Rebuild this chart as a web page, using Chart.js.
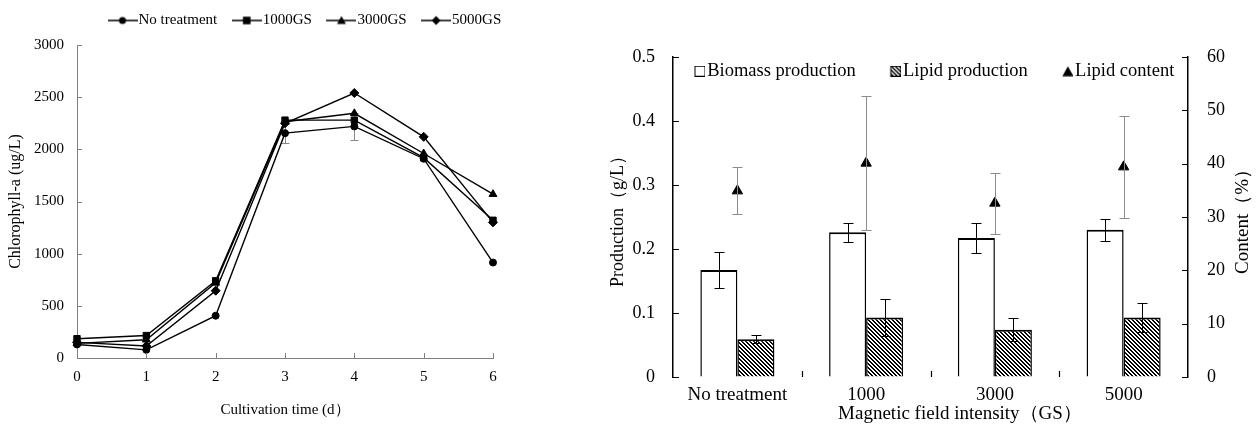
<!DOCTYPE html>
<html lang="en">
<head>
<meta charset="UTF-8">
<title>Chlorophyll-a and production under magnetic field</title>
<script src="https://cdn.jsdelivr.net/npm/chart.js"></script>
<style>
  body { margin: 0; background: #fff; }
  .box { position: absolute; top: 0; height: 426px; }
  #left { left: 0; width: 560px; }
  #right { left: 600px; width: 656px; }
</style>
</head>
<body>
<div class="box" id="left"><canvas id="chlChart" width="560" height="426"></canvas></div>
<div class="box" id="right"><canvas id="prodChart" width="656" height="426"></canvas></div>

<script>
// ---- left chart data: chlorophyll-a (ug/L) by cultivation day
const days = ['0', '1', '2', '3', '4', '5', '6'];
const noTreatment = [130, 78, 405, 2155, 2220, 1910, 915];
const gs1000 = [185, 215, 740, 2280, 2280, 1920, 1320];
const gs3000 = [140, 175, 720, 2265, 2345, 1960, 1570];
const gs5000 = [150, 115, 645, 2250, 2540, 2120, 1300];
const noTreatmentErr = [0, 0, 0, 92, 130, 0, 0];
const chlTicks = [0, 500, 1000, 1500, 2000, 2500, 3000];

// ---- right chart data
const fields = ['No treatment', '1000', '3000', '5000'];
const biomass = [0.167, 0.226, 0.217, 0.230];
const biomassErr = [0.028, 0.015, 0.023, 0.017];
const lipid = [0.059, 0.093, 0.074, 0.093];
const lipidErr = [0.0065, 0.029, 0.018, 0.022];
const content = [34.9, 40.1, 32.6, 39.4];
const contentErr = [4.4, 12.6, 5.7, 9.5];

const serif = '"Liberation Serif", "Times New Roman", serif';

// hatch used for the lipid bars
function hatch() {
  const c = document.createElement('canvas');
  c.width = 4; c.height = 4;
  const g = c.getContext('2d');
  g.fillStyle = '#fff'; g.fillRect(0, 0, 4, 4);
  g.fillStyle = '#000';
  for (let y = 0; y < 4; y++)
    for (let x = 0; x < 4; x++)
      if (((x - y) % 4 + 4) % 4 < 2) g.fillRect(x, y, 1, 1);
  return g.createPattern(c, 'repeat');
}
const lipidFill = hatch();

function marker(g, style, x, y, r) {
  g.beginPath();
  if (style === 'circle') g.arc(x, y, r, 0, Math.PI * 2);
  else if (style === 'rect') g.rect(x - r, y - r, 2 * r, 2 * r);
  else if (style === 'triangle') { g.moveTo(x, y - r); g.lineTo(x + r, y + r * 0.8); g.lineTo(x - r, y + r * 0.8); g.closePath(); }
  else if (style === 'rectRot') { g.moveTo(x, y - r); g.lineTo(x + r, y); g.lineTo(x, y + r); g.lineTo(x - r, y); g.closePath(); }
  g.fill();
}

// legend icon drawn right-aligned so the text sits close to it
function legendIcon(iconW, h, fs, gap, draw) {
  const bw = Math.max(1, iconW - fs + 2 * gap);
  const W = bw + fs - 2 * gap;
  const c = document.createElement('canvas');
  c.width = W; c.height = h;
  const g = c.getContext('2d');
  g.translate(W - iconW, 0);
  draw(g, iconW, h);
  return { canvas: c, bw: bw };
}

// fixed legend box height + placement (legend clips to its box, so move all edges)
const legendPlace = {
  id: 'legendPlace',
  beforeInit(chart, args, opts) {
    const lg = chart.legend;
    const fit = lg.fit;
    lg.fit = function () { fit.call(this); this.height = opts.height; };
  },
  afterLayout(chart, args, opts) {
    const lg = chart.legend;
    lg.left = opts.left;
    lg.right = chart.width;
    lg.top = opts.top;
    lg.bottom = opts.top + opts.height;
  }
};

// tick marks pointing into the plot
const inTicks = {
  id: 'inTicks',
  afterDatasetsDraw(chart, args, opts) {
    const ctx = chart.ctx;
    ctx.save();
    ctx.strokeStyle = opts.color;
    ctx.lineWidth = opts.width;
    Object.values(chart.scales).forEach(s => {
      ctx.beginPath();
      if (s.isHorizontal()) {
        const n = s.ticks.length;
        for (let i = 0; i < n; i++) {
          let x;
          if (opts.between) {
            if (i === 0) continue;
            x = (s.getPixelForTick(i - 1) + s.getPixelForTick(i)) / 2;
          } else x = s.getPixelForTick(i);
          x = Math.round(x) + 0.5;
          ctx.moveTo(x, s.top);
          ctx.lineTo(x, s.top - opts.len);
        }
      } else {
        const left = s.position === 'left';
        const edge = left ? s.right : s.left;
        s.ticks.forEach((t, i) => {
          const y = Math.round(s.getPixelForTick(i)) + 0.5;
          ctx.moveTo(edge, y);
          ctx.lineTo(edge + (left ? opts.len : -opts.len), y);
        });
      }
      ctx.stroke();
    });
    ctx.restore();
  }
};

// titles placed by hand (right-axis title reads bottom-to-top, x title sits off-centre)
const freeTitles = {
  id: 'freeTitles',
  afterDraw(chart, args, opts) {
    const ctx = chart.ctx;
    const area = chart.chartArea;
    (opts.items || []).forEach(t => {
      ctx.save();
      ctx.translate(t.x, t.y === 'mid' ? (area.top + area.bottom) / 2 : t.y);
      ctx.rotate(t.rot || 0);
      ctx.font = t.size + 'px ' + serif;
      ctx.fillStyle = '#000';
      ctx.textAlign = 'center';
      ctx.textBaseline = 'middle';
      ctx.fillText(t.text, 0, 0);
      ctx.restore();
    });
  }
};

function drawErrors(chart, cap) {
  const ctx = chart.ctx;
  ctx.save();
  chart.data.datasets.forEach((ds, di) => {
    if (!ds.errors) return;
    const meta = chart.getDatasetMeta(di);
    const ys = chart.scales[meta.yAxisID];
    ctx.strokeStyle = ds.errorColor || '#000';
    ctx.lineWidth = 1;
    meta.data.forEach((el, i) => {
      const e = ds.errors[i];
      if (!e) return;
      const v = ds.data[i];
      const x = Math.round(el.x) + 0.5;
      const y1 = Math.round(ys.getPixelForValue(v + e)) + 0.5;
      const y2 = Math.round(ys.getPixelForValue(v - e)) + 0.5;
      ctx.beginPath();
      ctx.moveTo(x, y1); ctx.lineTo(x, y2);
      ctx.moveTo(x - cap, y1); ctx.lineTo(x + cap, y1);
      ctx.moveTo(x - cap, y2); ctx.lineTo(x + cap, y2);
      ctx.stroke();
    });
  });
  ctx.restore();
}

const errBars = {
  id: 'errBars',
  beforeDatasetsDraw(chart, args, opts) { if (opts.behind) drawErrors(chart, opts.cap); },
  afterDatasetsDraw(chart, args, opts) { if (!opts.behind) drawErrors(chart, opts.cap); }
};

// ================= left: chlorophyll-a =================
const lineStyles = ['circle', 'rect', 'triangle', 'rectRot'];
const markerSize = { circle: 3.5, rect: 3.8, triangle: 4.5, rectRot: 4.5 };
const leftFont = 15;
const leftIcons = lineStyles.map(st => legendIcon(30, 12, leftFont, 1, (g, w, h) => {
  g.strokeStyle = '#000'; g.lineWidth = 1.5;
  g.beginPath(); g.moveTo(0, h / 2); g.lineTo(w, h / 2); g.stroke();
  g.fillStyle = '#000';
  marker(g, st, w / 2, h / 2, markerSize[st]);
}));

function lineSet(label, data, style, extra) {
  return Object.assign({
    label: label,
    data: data,
    borderColor: '#000',
    backgroundColor: '#000',
    borderWidth: 1.4,
    pointStyle: style,
    pointRadius: style === 'circle' ? 3.5 : 4.5,
    pointBackgroundColor: '#000',
    pointBorderColor: '#000',
    pointBorderWidth: 1,
    tension: 0
  }, extra || {});
}

new Chart(document.getElementById('chlChart'), {
  type: 'line',
  data: {
    labels: days,
    datasets: [
      lineSet('No treatment', noTreatment, 'circle', { errors: noTreatmentErr, errorColor: '#888' }),
      lineSet('1000GS', gs1000, 'rect'),
      lineSet('3000GS', gs3000, 'triangle'),
      lineSet('5000GS', gs5000, 'rectRot')
    ]
  },
  options: {
    responsive: false,
    animation: false,
    layout: { padding: { left: 0, right: 67, top: 0, bottom: 0 } },
    scales: {
      x: {
        type: 'category',
        offset: false,
        grid: { drawOnChartArea: false, drawTicks: false },
        border: { color: '#808080', width: 1 },
        ticks: { color: '#000', font: { family: serif, size: leftFont }, padding: 10, maxRotation: 0, autoSkip: false },
        title: { display: true, text: 'Cultivation time (d）', color: '#000', font: { family: serif, size: leftFont }, padding: { top: 0, bottom: 7 } },
        afterFit: s => { s.height = 68; }
      },
      y: {
        min: 0, max: 3000,
        afterBuildTicks: s => { s.ticks = chlTicks.map(v => ({ value: v })); },
        grid: { drawOnChartArea: false, drawTicks: false },
        border: { color: '#808080', width: 1 },
        ticks: { color: '#000', font: { family: serif, size: leftFont }, padding: 13, callback: v => String(v) },
        title: { display: true, text: 'Chlorophyll-a (ug/L)', color: '#000', font: { family: serif, size: 16 }, padding: { top: 6, bottom: 0 } },
        afterFit: s => { s.width = 77; }
      }
    },
    plugins: {
      legend: {
        position: 'top',
        align: 'start',
        labels: {
          usePointStyle: true,
          pointStyleWidth: leftIcons[0].bw,
          padding: 21,
          color: '#000',
          font: { family: serif, size: leftFont },
          generateLabels: chart => chart.data.datasets.map((ds, i) => ({
            text: ds.label, pointStyle: leftIcons[i].canvas, datasetIndex: i,
            hidden: false, lineWidth: 0, fontColor: '#000',
            fillStyle: 'transparent', strokeStyle: 'transparent'
          }))
        }
      },
      legendPlace: { height: 45, left: 93, top: -8 },
      inTicks: { len: 5, color: '#808080', width: 1, between: false },
      errBars: { behind: true, cap: 4 },
      tooltip: { enabled: false }
    }
  },
  plugins: [legendPlace, inTicks, errBars]
});

// ================= right: production / content =================
const rightFont = 18.5;
const rightIcons = [
  legendIcon(11, 11, rightFont, 2, (g, w, h) => {
    g.fillStyle = '#fff'; g.fillRect(0.5, 0.5, w - 1, h - 1);
    g.strokeStyle = '#000'; g.lineWidth = 1; g.strokeRect(0.5, 0.5, w - 1, h - 1);
  }),
  legendIcon(11, 11, rightFont, 2, (g, w, h) => {
    g.fillStyle = lipidFill; g.fillRect(0.5, 0.5, w - 1, h - 1);
    g.strokeStyle = '#000'; g.lineWidth = 1; g.strokeRect(0.5, 0.5, w - 1, h - 1);
  }),
  legendIcon(11, 11, rightFont, 2, (g, w, h) => {
    g.fillStyle = '#000';
    g.beginPath(); g.moveTo(w / 2, 0.5); g.lineTo(w, h - 0.5); g.lineTo(0, h - 0.5); g.closePath(); g.fill();
  })
];

const barStyle = {
  borderColor: '#000',
  borderWidth: { top: 2, left: 1.5, right: 1.5, bottom: 0 },
  barPercentage: 1,
  categoryPercentage: 0.575
};

new Chart(document.getElementById('prodChart'), {
  data: {
    labels: fields,
    datasets: [
      Object.assign({ type: 'bar', label: 'Biomass production', data: biomass, backgroundColor: '#fff', yAxisID: 'y', errors: biomassErr, errorColor: '#000' }, barStyle),
      Object.assign({ type: 'bar', label: 'Lipid production', data: lipid, backgroundColor: lipidFill, yAxisID: 'y', errors: lipidErr, errorColor: '#000' }, barStyle),
      {
        type: 'line', label: 'Lipid content', data: content, yAxisID: 'y1',
        showLine: false, pointStyle: 'triangle', pointRadius: 6,
        pointBackgroundColor: '#000', pointBorderColor: '#000', borderColor: '#000', backgroundColor: '#000',
        errors: contentErr, errorColor: '#8c8c8c'
      }
    ]
  },
  options: {
    responsive: false,
    animation: false,
    layout: { padding: 0 },
    scales: {
      x: {
        type: 'category',
        offset: true,
        grid: { drawOnChartArea: false, drawTicks: false, offset: true },
        border: { display: false },
        ticks: { color: '#000', font: { family: serif, size: 19 }, padding: 7, maxRotation: 0, autoSkip: false },
        afterFit: s => { s.height = 49; }
      },
      y: {
        position: 'left',
        min: 0, max: 0.5,
        ticks: { stepSize: 0.1, color: '#000', font: { family: serif, size: 18 }, padding: 18 },
        grid: { drawOnChartArea: false, drawTicks: false },
        border: { color: '#000', width: 1.5 },
        title: { display: true, text: 'Production（g/L）', color: '#000', font: { family: serif, size: 18 }, padding: { top: 7, bottom: 0 } },
        afterFit: s => { s.width = 73; }
      },
      y1: {
        position: 'right',
        min: 0, max: 60,
        ticks: { stepSize: 10, color: '#000', font: { family: serif, size: 18 }, padding: 19 },
        grid: { drawOnChartArea: false, drawTicks: false },
        border: { color: '#000', width: 1.5 },
        afterFit: s => { s.width = 68; }
      }
    },
    plugins: {
      legend: {
        position: 'top',
        align: 'start',
        labels: {
          usePointStyle: true,
          pointStyleWidth: rightIcons[0].bw,
          padding: 37,
          color: '#000',
          font: { family: serif, size: rightFont },
          generateLabels: chart => chart.data.datasets.map((ds, i) => ({
            text: ds.label, pointStyle: rightIcons[i].canvas, datasetIndex: i,
            hidden: false, lineWidth: 0, fontColor: '#000',
            fillStyle: 'transparent', strokeStyle: 'transparent'
          }))
        }
      },
      legendPlace: { height: 57, left: 60, top: 25 },
      freeTitles: {
        items: [
          { text: 'Content（%）', x: 643, y: 'mid', rot: -Math.PI / 2, size: 19 },
          { text: 'Magnetic field intensity（GS）', x: 360, y: 414, size: 19 }
        ]
      },
      inTicks: { len: 6, color: '#000', width: 1.2, between: true },
      errBars: { behind: false, cap: 5 },
      tooltip: { enabled: false }
    }
  },
  plugins: [legendPlace, inTicks, errBars, freeTitles]
});
</script>
</body>
</html>
